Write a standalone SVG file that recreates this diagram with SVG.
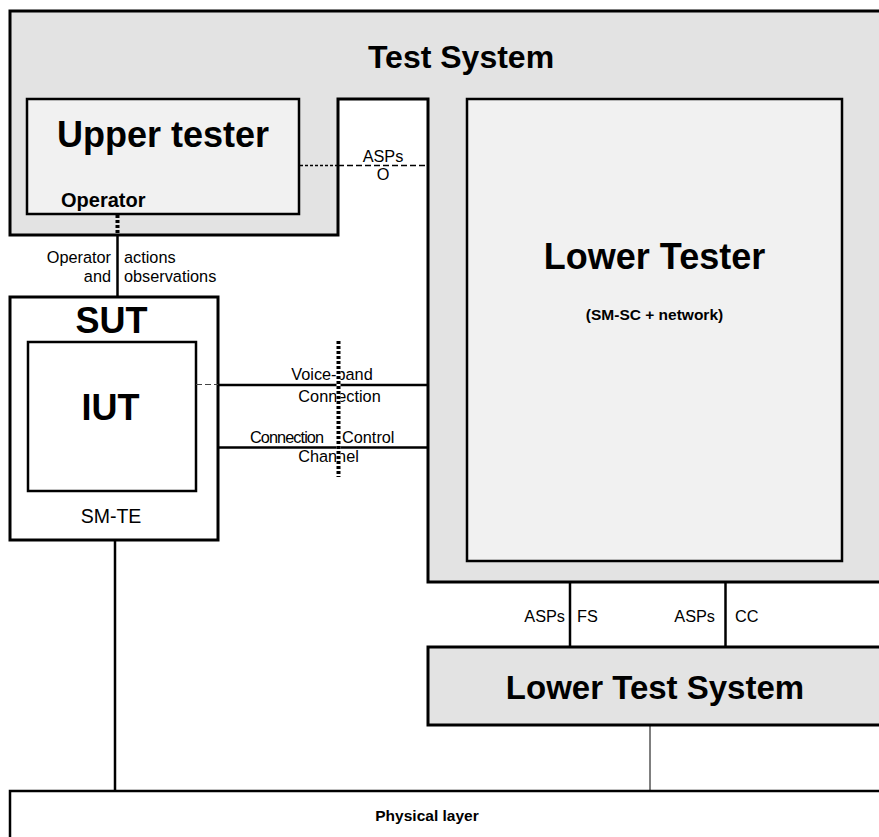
<svg xmlns="http://www.w3.org/2000/svg" width="879" height="837" viewBox="0 0 879 837">
<style>
text{font-family:"Liberation Sans",Arial,Helvetica,sans-serif;fill:#000}
.b{font-weight:bold}
.big{font-size:36px;font-weight:bold}
.lbl{font-size:16.3px}
.box{stroke:#000;stroke-width:2.5}
.thin{stroke:#000;stroke-width:1;fill:none}
.mid{stroke:#000;stroke-width:2.5;fill:none}
</style>
<rect width="879" height="837" fill="#fff"/>
<g id="test-system">
<polygon points="10,11 892,11 892,582 428,582 428,99 338,99 338,235 10,235" fill="#e3e3e3" stroke="#000" stroke-width="3"/>
<text x="461" y="68" class="b" font-size="32" text-anchor="middle">Test System</text>
</g>
<g id="upper-tester">
<rect x="27" y="99" width="272" height="115" fill="#f1f1f1" class="box" stroke-width="2"/>
<text x="163" y="147" class="big" text-anchor="middle">Upper tester</text>
<text x="61" y="207" class="b" font-size="20">Operator</text>
</g>
<g id="lower-tester">
<rect x="467" y="99" width="375" height="462" fill="#f1f1f1" class="box"/>
<text x="654.5" y="269" class="big" text-anchor="middle" font-size="37.5">Lower Tester</text>
<text x="654.5" y="320" class="b" font-size="15.5" text-anchor="middle">(SM-SC + network)</text>
</g>
<g id="sut">
<rect x="10" y="297" width="208" height="243" fill="#fff" stroke="#000" stroke-width="3"/>
<text x="111.5" y="333" class="big" text-anchor="middle" font-size="37">SUT</text>
<text x="111" y="523" font-size="19.5" text-anchor="middle">SM-TE</text>
</g>
<g id="iut">
<rect x="28" y="342" width="168" height="149" fill="#fff" class="box" stroke-width="2"/>
<text x="110.5" y="420" class="big" text-anchor="middle" font-size="35">IUT</text>
</g>
<g id="lower-test-system">
<rect x="428" y="647" width="464" height="78" fill="#e3e3e3" stroke="#000" stroke-width="3"/>
<text x="655" y="699" class="b" font-size="33" text-anchor="middle">Lower Test System</text>
</g>
<g id="physical-layer">
<rect x="10" y="791" width="882" height="60" fill="#fff" stroke="#000" stroke-width="2.5"/>
<text x="427" y="821" class="b" font-size="15.5" text-anchor="middle">Physical layer</text>
</g>
<g id="connectors">
<line x1="117.5" y1="235" x2="117.5" y2="297" class="mid" stroke-width="2"/>
<line x1="117.5" y1="215" x2="117.5" y2="234" stroke="#000" stroke-width="4" stroke-dasharray="3,2"/>
<line x1="300" y1="165.5" x2="338" y2="165.5" stroke="#000" stroke-width="1.5" stroke-dasharray="3,2"/>
<line x1="338" y1="165.5" x2="427" y2="165.5" stroke="#000" stroke-width="1.5" stroke-dasharray="6,3"/>
<line x1="196" y1="384.5" x2="218" y2="384.5" stroke="#444" stroke-width="1" stroke-dasharray="6,3"/>
<line x1="218" y1="385" x2="428" y2="385" class="mid"/>
<line x1="218" y1="447.5" x2="428" y2="447.5" class="mid" stroke-width="2"/>
<line x1="570" y1="582" x2="570" y2="647" class="mid"/>
<line x1="725.5" y1="582" x2="725.5" y2="647" class="mid"/>
<line x1="115" y1="540" x2="115" y2="791" class="mid" stroke-width="2"/>
<line x1="650" y1="725" x2="650" y2="791" class="thin"/>
</g>
<g id="labels" class="lbl">
<text x="111" y="263" text-anchor="end">Operator</text>
<text x="124" y="263">actions</text>
<text x="111" y="281.5" text-anchor="end">and</text>
<text x="124" y="281.5">observations</text>
<text x="383" y="161.5" text-anchor="middle">ASPs</text>
<text x="383" y="180" text-anchor="middle">O</text>
<text x="332" y="380" text-anchor="middle">Voice-band</text>
<text x="339.5" y="401.5" text-anchor="middle">Connection</text>
<text x="250" y="443" textLength="74">Connection</text>
<text x="342" y="443">Control</text>
<text x="328.5" y="462" text-anchor="middle">Channel</text>
<text x="565" y="622" text-anchor="end">ASPs</text>
<text x="577" y="622">FS</text>
<text x="715" y="622" text-anchor="end">ASPs</text>
<text x="735" y="622">CC</text>
</g>
<g id="divider">
<line x1="338.5" y1="341" x2="338.5" y2="477" stroke="#fff" stroke-width="4"/>
<line x1="338.5" y1="341" x2="338.5" y2="477" stroke="#000" stroke-width="4" stroke-dasharray="3,2"/>
</g>
</svg>
